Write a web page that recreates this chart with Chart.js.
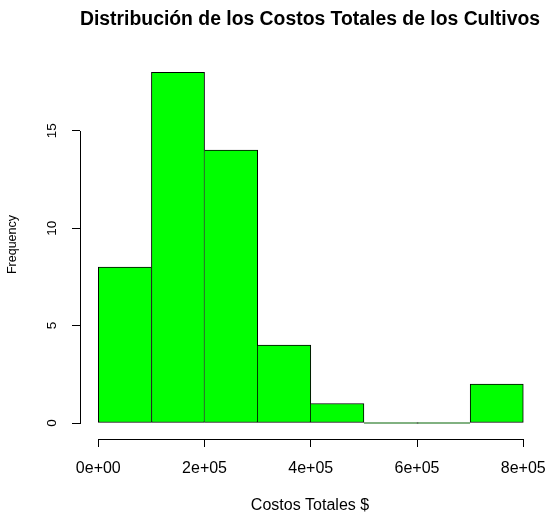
<!DOCTYPE html>
<html>
<head>
<meta charset="utf-8">
<script src="https://cdn.jsdelivr.net/npm/chart.js@4/dist/chart.umd.min.js"></script>
<style>
  html, body { margin: 0; padding: 0; background: #ffffff; }
  canvas { display: block; }
</style>
</head>
<body>
<canvas id="hist" width="548" height="515"></canvas>
<script>
// Histogram bins (lower edges) and their counts
const binStarts = [0, 100000, 200000, 300000, 400000, 500000, 600000, 700000];
const binWidth = 100000;
const counts = [8, 18, 14, 4, 1, 0, 0, 2];

// Axis ticks and their labels
const xTickValues = [0, 200000, 400000, 600000, 800000];
const xTickLabels = ['0e+00', '2e+05', '4e+05', '6e+05', '8e+05'];
const yTickValues = [0, 5, 10, 15];
const yTickLabels = ['0', '5', '10', '15'];

const FONT = "'Liberation Sans', Arial, Helvetica, sans-serif";

const points = binStarts.map((s, i) => ({ x: s + binWidth / 2, y: counts[i] }));

// One shared edge between neighbouring bars: the taller bar draws it
function edgeWidths(ctx) {
  const i = ctx.dataIndex;
  const v = counts[i];
  const prev = i > 0 ? counts[i - 1] : -1;
  const next = i < counts.length - 1 ? counts[i + 1] : -1;
  return { top: 1, bottom: 1, left: prev <= v ? 1 : 0, right: next < v ? 1 : 0 };
}

// Axis lines spanning only the first to last tick
const axisLines = {
  id: 'axisLines',
  afterDraw(chart) {
    const { ctx, chartArea, scales } = chart;
    const x = scales.x, y = scales.y;
    ctx.save();
    ctx.strokeStyle = '#000000';
    ctx.lineWidth = 1;
    ctx.beginPath();
    const yb = Math.round(chartArea.bottom) + 0.5;
    ctx.moveTo(Math.round(x.getPixelForValue(xTickValues[0])), yb);
    ctx.lineTo(Math.round(x.getPixelForValue(xTickValues[xTickValues.length - 1])) + 1, yb);
    const xl = Math.round(chartArea.left) + 0.5;
    ctx.moveTo(xl, Math.round(y.getPixelForValue(yTickValues[0])) + 1);
    ctx.lineTo(xl, Math.round(y.getPixelForValue(yTickValues[yTickValues.length - 1])));
    ctx.stroke();
    ctx.restore();
  }
};

new Chart(document.getElementById('hist'), {
  type: 'bar',
  data: {
    datasets: [{
      data: points,
      backgroundColor: '#00ff00',
      borderColor: '#000000',
      borderWidth: edgeWidths,
      borderSkipped: false,
      minBarLength: 1,
      barPercentage: 1,
      categoryPercentage: 1
    }]
  },
  options: {
    responsive: false,
    animation: false,
    devicePixelRatio: 1,
    layout: { padding: { left: 0, right: 8, top: 0, bottom: 0 } },
    plugins: {
      legend: { display: false },
      tooltip: { enabled: false },
      title: {
        display: true,
        text: 'Distribución de los Costos Totales de los Cultivos',
        fullSize: false,
        color: '#000000',
        font: { family: FONT, size: 19.6, weight: 'bold', lineHeight: 1.2 },
        padding: { top: 8.2, bottom: 18.3 }
      }
    },
    scales: {
      x: {
        type: 'linear',
        position: 'bottom',
        min: -34450,
        max: 831450,
        offset: false,
        afterBuildTicks: s => { s.ticks = xTickValues.map(v => ({ value: v })); },
        afterFit: s => { s.height = 76; s.paddingLeft = 0; s.paddingRight = 0; },
        grid: { offset: false, drawOnChartArea: false, drawTicks: true, tickLength: 8, color: '#000000', lineWidth: 1 },
        border: { display: false },
        ticks: {
          color: '#000000',
          font: { family: FONT, size: 16 },
          padding: 12,
          maxRotation: 0,
          autoSkip: false,
          callback: (v, i) => xTickLabels[i]
        },
        title: {
          display: true,
          text: 'Costos Totales $',
          color: '#000000',
          font: { family: FONT, size: 16, lineHeight: 1.2 },
          padding: { top: 0, bottom: -0.5 }
        }
      },
      y: {
        type: 'linear',
        position: 'left',
        min: -0.821,
        max: 19.14,
        afterBuildTicks: s => { s.ticks = yTickValues.map(v => ({ value: v })); },
        afterFit: s => { s.width = 80; s.paddingTop = 0; s.paddingBottom = 0; },
        grid: { drawOnChartArea: false, drawTicks: true, tickLength: 8, color: '#000000', lineWidth: 1 },
        border: { display: false },
        ticks: {
          color: '#000000',
          font: { family: FONT, size: 13.5 },
          padding: 12,
          minRotation: 90,
          maxRotation: 90,
          crossAlign: 'center',
          autoSkip: false,
          callback: (v, i) => yTickLabels[i]
        },
        title: {
          display: true,
          text: 'Frequency',
          color: '#000000',
          font: { family: FONT, size: 12.5, lineHeight: 1.2 },
          padding: { top: 5.5, bottom: 0 }
        }
      }
    }
  },
  plugins: [axisLines]
});
</script>
</body>
</html>
